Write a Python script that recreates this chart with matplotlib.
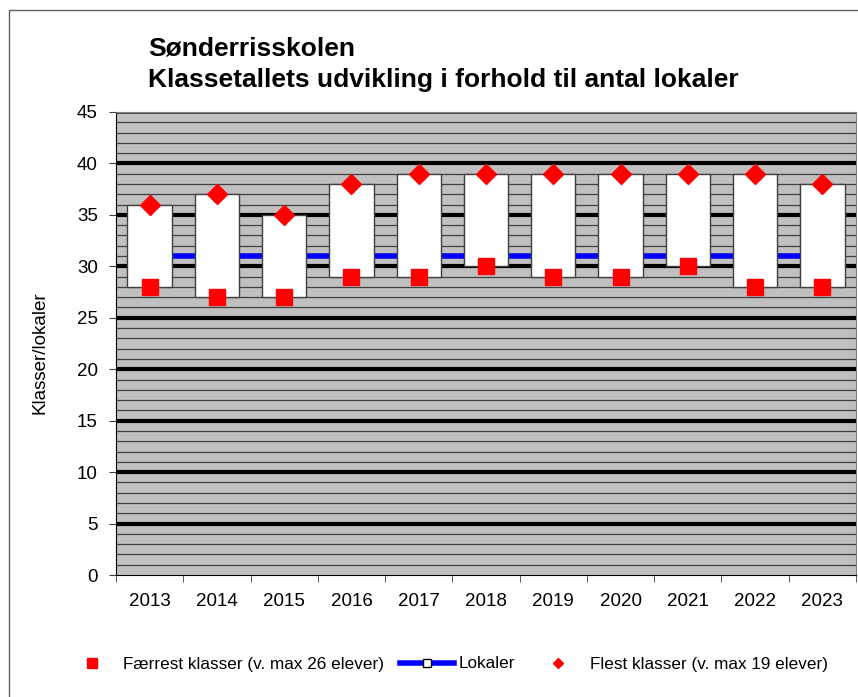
import matplotlib.pyplot as plt
from matplotlib.lines import Line2D
from matplotlib.patches import Rectangle

"""Klassetal for Sønderrisskolen sammenholdt med antal lokaler"""

years = ['2013', '2014', '2015', '2016', '2017', '2018', '2019', '2020', '2021', '2022', '2023']
faerrest = [28, 27, 27, 29, 29, 30, 29, 29, 30, 28, 28]
flest = [36, 37, 35, 38, 39, 39, 39, 39, 39, 39, 38]
lokaler = [31, 31, 31, 31, 31, 31, 31, 31, 31, 31, 31]

plt.rcParams['font.family'] = ['Liberation Sans', 'DejaVu Sans']

fig = plt.figure(figsize=(8.58, 6.97), dpi=100)
ax = fig.add_axes([116 / 858, 122 / 697, 740 / 858, 463 / 697])
ax.set_facecolor('#c0c0c0')

x = list(range(len(years)))

# grid: thin lines every unit, thick every 5
for v in range(1, 45):
    if v % 5 == 0:
        ax.axhline(v, color='black', lw=3, zorder=1)
    else:
        ax.axhline(v, color='#404040', lw=0.9, zorder=1)
ax.axhline(45, color='#404040', lw=2, zorder=1)

ax.plot(x, lokaler, color='#0000ff', lw=4, marker='s', ms=6,
        mfc='white', mec='black', zorder=2)

heights = [h - l for h, l in zip(flest, faerrest)]
ax.bar(x, heights, bottom=faerrest, width=0.66, color='white',
       edgecolor='#404040', lw=1, zorder=3)

ax.plot(x, faerrest, ls='none', marker='s', ms=11, color='red', zorder=4)
ax.plot(x, flest, ls='none', marker='D', ms=10, color='red', zorder=4)

ax.set_xlim(-0.5, len(years) - 0.5)
ax.set_ylim(0, 45)
ax.set_yticks(range(0, 46, 5))
ax.set_xticks(x)
ax.set_xticklabels(years)
ax.set_xticks([i - 0.5 for i in range(len(years) + 1)], minor=True)
ax.tick_params(axis='x', which='major', length=0, pad=13, labelsize=13.5)
ax.tick_params(axis='x', which='minor', length=5, color='#404040', direction='out')
ax.tick_params(axis='y', length=5, pad=8, labelsize=13.5, color='#404040')

for s in ['top', 'right']:
    ax.spines[s].set_color('#808080')
ax.spines['left'].set_color('black')
ax.spines['bottom'].set_color('black')

ax.set_ylabel('Klasser/lokaler', fontsize=13.5)
ax.yaxis.set_label_coords(-68 / 740, 0.48)

fig.text(148 / 858, 1 - 48 / 697, 'Sønderrisskolen', fontsize=19,
         fontweight='bold', va='center', ha='left')
fig.text(148 / 858, 1 - 80 / 697, 'Klassetallets udvikling i forhold til antal lokaler',
         fontsize=19, fontweight='bold', va='center', ha='left')

handles = [
    Line2D([], [], ls='none', marker='s', ms=7, color='red'),
    Line2D([], [], color='#0000ff', lw=4, marker='s', ms=6, mfc='white', mec='black'),
    Line2D([], [], ls='none', marker='D', ms=5, color='red'),
]
labels = ['Færrest klasser (v. max 26 elever)', 'Lokaler', 'Flest klasser (v. max 19 elever)']
fig.legend(handles, labels, loc='center', bbox_to_anchor=(446 / 858, 1 - 664 / 697),
           ncol=3, frameon=False, fontsize=12.3, handlelength=3.2,
           handletextpad=0.25, columnspacing=0.9, borderpad=0, borderaxespad=0)

fig.patches.append(Rectangle((9 / 858, -0.05), 1.1, 1 - 10 / 697 + 0.05,
                             transform=fig.transFigure, fill=False,
                             edgecolor='#606060', lw=1))

fig.savefig('out.png', dpi=100)
